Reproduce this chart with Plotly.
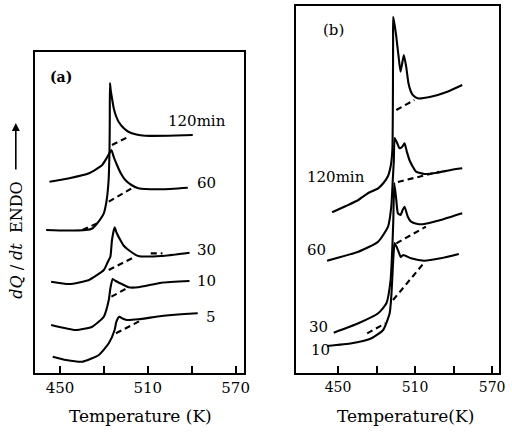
import plotly.graph_objects as go

# ---------------- Panel (a) data: temperature (K) vs dQ/dt (arb. units) ----------------
a120_T = [440.5, 454.1, 467.6, 472.0, 475.4, 479.9, 481.7, 483.2, 483.8, 484.0, 484.1, 484.6, 485.7, 486.7, 488.0, 490.0, 493.4, 496.7, 502.2, 508.1, 523.8, 540.7]
a120_Q = [143, 142.5, 143, 144.5, 149.7, 159.7, 171.3, 193, 223, 253, 290, 283, 273, 264.7, 258, 251.3, 245, 241.3, 238.5, 237.3, 237.3, 238]
a60_T = [442.8, 456.3, 469.8, 478.8, 481.9, 485.1, 486.7, 488.9, 491.4, 494.6, 498.8, 503.5, 519.3, 537.3]
a60_Q = [191.3, 194.7, 199.7, 208, 215, 223, 216, 208, 200, 193, 188, 184.7, 183.7, 185.3]
a30_T = [443.9, 456.3, 469.8, 479.9, 482.6, 484.4, 485.5, 487.3, 488.7, 491.2, 493.4, 496.8, 503.5, 519.3, 538.5]
a30_Q = [91.3, 89, 93, 103, 111, 116.3, 133, 145.7, 140, 133, 127.5, 123, 117, 117, 120.3]
a10_T = [443.9, 460.8, 472.0, 479.9, 483.3, 484.4, 486.0, 488.0, 491.2, 496.8, 503.5, 519.3, 538.5]
a10_Q = [48, 43, 46.3, 56.3, 73, 84.7, 94, 92, 89.7, 85.7, 85.7, 90.3, 92]
a5_T = [445.0, 454.1, 465.3, 476.5, 483.3, 487.3, 488.5, 490.5, 492.7, 495.6, 503.5, 519.3, 535.1, 544.1]
a5_Q = [16.3, 13, 11.3, 18, 29.7, 43, 51.3, 56.3, 54.5, 53, 53.7, 57, 59, 59.7]

# extrapolated baselines (dashed) in panel (a)
a_base = [
    ([485.5, 496.8], [228, 236.3]),
    ([483.3, 499.0], [171.3, 184.7]),
    ([465.3, 477.7], [143, 151.3]),
    ([483.3, 501.3], [103, 116.3]),
    ([512.0, 520.0], [119.6, 119.6]),
    ([485.1, 496.8], [76.3, 85.7]),
    ([488.2, 505.8], [39.7, 53]),
]
a_labels = ["120min", "60", "30", "10", "5"]
a_label_T = [522.6, 558.2, 558.2, 558.2, 558.2]
a_label_Q = [252, 190, 123, 92, 56.3]

# ---------------- Panel (b) data ----------------
b120_T = [445.44, 456.19, 465.88, 473.58, 481.27, 485.38, 488.96, 491.17, 492.33, 492.65, 492.81, 492.91, 492.97, 494.23, 495.39, 497.18, 498.66, 500.03, 501.29, 503.08, 504.87, 506.56, 508.25, 512.04, 522.26, 535.12, 546.71]
b120_Q = [160.7, 167, 173, 180, 184.7, 190, 197, 208, 223, 253, 293, 333, 356.3, 347, 336.3, 316.3, 301.3, 310, 318, 306.3, 289.7, 282, 278, 274.7, 276.3, 281.3, 288]
b60_T = [441.54, 465.88, 481.27, 488.96, 491.49, 492.65, 493.49, 494.13, 496.13, 497.92, 500.03, 501.82, 503.61, 505.61, 508.25, 510.78, 517.20, 527.43, 537.65, 546.71]
b60_Q = [112.3, 121.3, 131.3, 146.3, 166.3, 193, 213, 235, 229.7, 224.7, 226.3, 229.7, 221.3, 213, 206.3, 201.3, 199, 200.3, 203, 204.7]
b30_T = [446.70, 465.88, 481.27, 487.70, 490.96, 492.33, 493.07, 493.81, 495.39, 496.65, 498.66, 500.34, 501.82, 504.35, 506.88, 512.04, 517.20, 529.96, 546.71]
b30_Q = [40.3, 49.7, 59.7, 69.7, 93, 126.3, 153, 190, 173, 159.7, 158, 163, 166.3, 156.3, 151.3, 149, 149, 153, 159.7]
b10_T = [441.54, 460.72, 476.10, 485.17, 490.23, 491.49, 492.86, 493.49, 494.13, 496.65, 498.87, 500.76, 506.88, 517.20, 529.96, 544.08]
b10_Q = [27, 29.7, 34.7, 43, 59.7, 76.3, 109.7, 123, 130, 123, 116, 118, 114.7, 112.3, 114.7, 119]

b_base = [
    ([495.39, 509.51], [263, 273]),
    ([496.65, 528.69], [191, 201.3]),
    ([495.39, 518.47], [129.7, 146.3]),
    ([492.86, 517.73], [73, 111.3]),
    ([472.73, 486.96], [39.7, 49.7]),
]
b_labels = ["120min", "60", "30", "10"]
b_label_T = [424.57, 424.57, 426.15, 427.42]
b_label_Q = [196, 123, 46.3, 23]

tick_vals = [450, 480, 510, 540, 570]
tick_text = ["450", "", "510", "", "570"]

FONT = "DejaVu Serif"
W, H = 512, 434

fig = go.Figure()
line = dict(color="black", width=2.1, shape="spline", smoothing=0.5)
dline = dict(color="black", width=2.1, dash="6px,4px")

for T, Q in [(a120_T, a120_Q), (a60_T, a60_Q), (a30_T, a30_Q), (a10_T, a10_Q), (a5_T, a5_Q)]:
    fig.add_trace(go.Scatter(x=T, y=Q, mode="lines", line=line, xaxis="x", yaxis="y", showlegend=False))
for T, Q in a_base:
    fig.add_trace(go.Scatter(x=T, y=Q, mode="lines", line=dline, xaxis="x", yaxis="y", showlegend=False))
for T, Q in [(b120_T, b120_Q), (b60_T, b60_Q), (b30_T, b30_Q), (b10_T, b10_Q)]:
    fig.add_trace(go.Scatter(x=T, y=Q, mode="lines", line=line, xaxis="x2", yaxis="y2", showlegend=False))
for T, Q in b_base:
    fig.add_trace(go.Scatter(x=T, y=Q, mode="lines", line=dline, xaxis="x2", yaxis="y2", showlegend=False))

ann = []
for i, lab in enumerate(a_labels):
    ann.append(dict(x=a_label_T[i], y=a_label_Q[i], xref="x", yref="y", text=lab, showarrow=False,
                    xanchor="left" if i == 0 else "right", yanchor="middle", font=dict(size=15, family=FONT, color="black")))
for i, lab in enumerate(b_labels):
    ann.append(dict(x=b_label_T[i], y=b_label_Q[i], xref="x2", yref="y2", text=lab, showarrow=False,
                    xanchor="left", yanchor="middle", font=dict(size=15, family=FONT, color="black")))
ann.append(dict(x=441.5, y=296, xref="x", yref="y", text="<b>(a)</b>", showarrow=False, xanchor="left",
                font=dict(size=14, family=FONT, color="black")))
ann.append(dict(x=436.6, y=343, xref="x2", yref="y2", text="(b)", showarrow=False, xanchor="left",
                font=dict(size=15, family=FONT, color="black")))
# axis titles
ann.append(dict(x=142 / W, y=1 - 416 / H, xref="paper", yref="paper", text="Temperature (K)", showarrow=False,
                xanchor="center", yanchor="middle", font=dict(size=17, family=FONT, color="black")))
ann.append(dict(x=410 / W, y=1 - 416 / H, xref="paper", yref="paper", text="Temperature(K)", showarrow=False,
                xanchor="center", yanchor="middle", font=dict(size=17, family=FONT, color="black")))
ann.append(dict(x=16 / W, y=1 - 240 / H, xref="paper", yref="paper", text="<i>dQ</i> / <i>dt</i>  ENDO",
                xanchor="center", yanchor="middle",
                textangle=-90, showarrow=False, font=dict(size=16, family=FONT, color="black")))
ann.append(dict(x=16 / W, y=1 - 123 / H, ax=0, ay=48, xref="paper", yref="paper",
                axref="pixel", ayref="pixel", text="", showarrow=True, arrowhead=2, arrowsize=1,
                arrowwidth=1.6, arrowcolor="black"))

axis_common = dict(showline=True, linecolor="black", linewidth=1.6, mirror=True, showgrid=False,
                   zeroline=False)
fig.update_layout(
    width=W, height=H, margin=dict(l=0, r=0, t=0, b=0),
    paper_bgcolor="white", plot_bgcolor="white",
    xaxis=dict(domain=[35 / W, 247 / W], range=[432.6, 575.8], tickvals=tick_vals, ticktext=tick_text,
               ticks="inside", ticklen=7, tickwidth=1.5, tickcolor="black",
               tickfont=dict(size=15, family=FONT, color="black"), anchor="y", **axis_common),
    yaxis=dict(domain=[1 - 373 / H, 1 - 52 / H], range=[0, 321], showticklabels=False, ticks="",
               anchor="x", **axis_common),
    xaxis2=dict(domain=[300 / W, 505 / W], range=[417.7, 575.4], tickvals=tick_vals, ticktext=tick_text,
                ticks="inside", ticklen=7, tickwidth=1.5, tickcolor="black",
                tickfont=dict(size=14, family=FONT, color="black"), anchor="y2", **axis_common),
    yaxis2=dict(domain=[1 - 373 / H, 1 - 6 / H], range=[0, 367], showticklabels=False, ticks="",
                anchor="x2", **axis_common),
    annotations=ann,
)

fig.write_html("out.html", config={"displayModeBar": False},
               post_script="document.body.style.margin='0';document.documentElement.style.overflow='hidden';document.body.style.overflow='hidden';")
